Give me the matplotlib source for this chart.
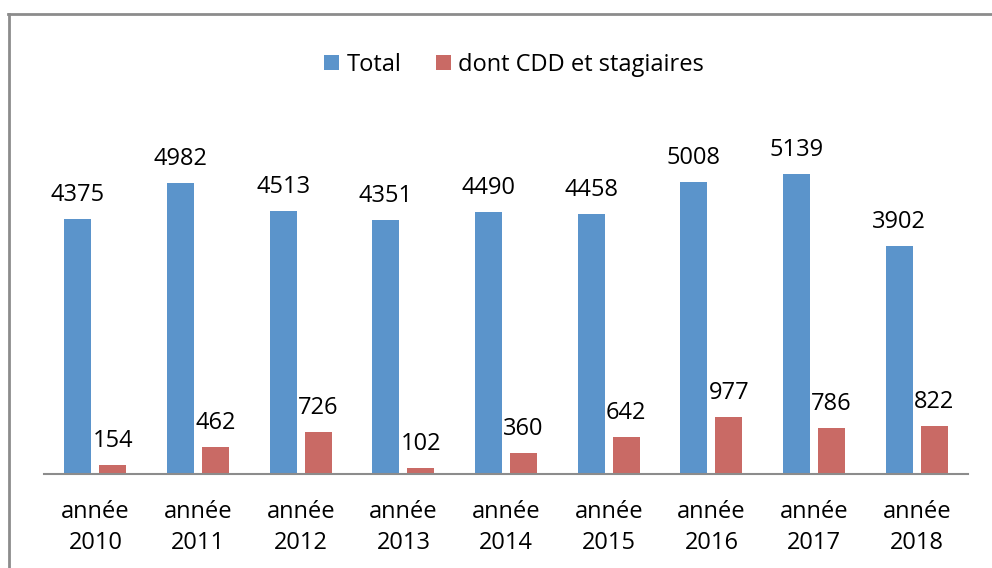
import matplotlib.pyplot as plt
from matplotlib.lines import Line2D
import numpy as np

# données
annees = ['année\n2010', 'année\n2011', 'année\n2012', 'année\n2013', 'année\n2014',
          'année\n2015', 'année\n2016', 'année\n2017', 'année\n2018']
total = [4375, 4982, 4513, 4351, 4490, 4458, 5008, 5139, 3902]
cdd_stagiaires = [154, 462, 726, 102, 360, 642, 977, 786, 822]

plt.rcParams['font.family'] = ['Open Sans', 'DejaVu Sans']
taille = 17

fig = plt.figure(figsize=(9.92, 5.68), dpi=100)
ax = fig.add_axes([0.0444, 0.1655, 0.9315, 0.616])

x = np.arange(len(annees))
largeur = 0.263
decalage = 0.17
b1 = ax.bar(x - decalage, total, largeur, color='#5B94CB', label='Total')
b2 = ax.bar(x + decalage, cdd_stagiaires, largeur, color='#C96A65', label='dont CDD et stagiaires')

for barres in (b1, b2):
    for r in barres:
        ax.annotate(f'{int(r.get_height())}', (r.get_x() + r.get_width() / 2, r.get_height()),
                    xytext=(0, 13), textcoords='offset points', ha='center', va='baseline',
                    fontsize=taille)

ax.set_xlim(-0.5, len(annees) - 0.5)
ax.set_ylim(0, 6000)
ax.set_xticks(x)
ax.set_xticklabels(annees, fontsize=taille, linespacing=1.35)
ax.tick_params(axis='x', length=0, pad=19)
ax.set_yticks([])
for s in ['top', 'right', 'left']:
    ax.spines[s].set_visible(False)
ax.spines['bottom'].set_color('#8C8C8C')
ax.spines['bottom'].set_linewidth(1.5)

fig.legend(handles=[b1, b2], loc='center', bbox_to_anchor=(514 / 992, 0.886), ncol=2,
           frameon=False, fontsize=taille, handlelength=0.64, handleheight=0.64,
           handletextpad=0.3, columnspacing=1.45)

# cadre gris (haut et gauche)
fig.add_artist(Line2D([8 / 992, 1], [1 - 14 / 568, 1 - 14 / 568], color='#8C8C8C', lw=2))
fig.add_artist(Line2D([8.5 / 992, 8.5 / 992], [0, 1 - 14 / 568], color='#8C8C8C', lw=2))

fig.savefig('out.png', dpi=100)
